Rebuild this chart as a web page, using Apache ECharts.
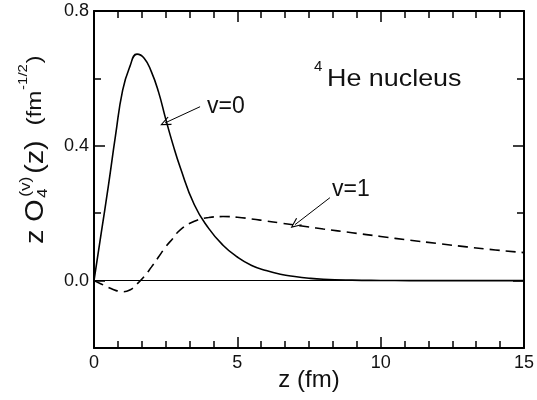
<!DOCTYPE html>
<html>
<head>
<meta charset="utf-8">
<script src="https://cdn.jsdelivr.net/npm/echarts@6/dist/echarts.min.js"></script>
<style>
  html, body { margin: 0; padding: 0; background: #fff; }
  #chart { width: 537px; height: 400px; }
</style>
</head>
<body>
<div id="chart"></div>
<script>
// z (fm) sample points
const zValues = [0, 0.25, 0.5, 0.75, 1, 1.25, 1.5, 1.75, 2, 2.25, 2.5, 2.75, 3, 3.5, 4, 4.5,
  5, 5.5, 6, 6.5, 7, 7.5, 8, 9, 10, 11, 12, 13, 14, 15]
// v=0 (solid)
const v0Values = [0, 0.14, 0.28, 0.43, 0.565, 0.635, 0.672, 0.66, 0.62, 0.56, 0.48, 0.405, 0.338, 0.225, 0.155, 0.105,
  0.07, 0.045, 0.03, 0.019, 0.012, 0.007, 0.004, 0.0015, 0.0005, 0, 0, 0, 0, 0]
// v=1 (dashed)
const v1Values = [0, -0.01, -0.02, -0.029, -0.033, -0.028, -0.01, 0.012, 0.04, 0.07, 0.1, 0.125, 0.15, 0.176, 0.187, 0.19,
  0.188, 0.183, 0.177, 0.171, 0.165, 0.159, 0.153, 0.142, 0.131, 0.12, 0.11, 0.1, 0.091, 0.083]

const yLabelTicks = [0, 0.4, 0.8]
const yMinorTicks = [-0.2, 0.2, 0.6]

// arrows: [tail, tip] in data units
const arrowV0 = [[3.70, 0.516], [2.48, 0.468]]
const arrowV1 = [[8.23, 0.246], [7.01, 0.166]]

const FONT = '"Liberation Sans", Arial, sans-serif'
const INK = '#111'
const arrowHead = 'path://M5,0 L10,10 L9,10.6 L5,2.6 L1,10.6 L0,10 Z'

const pairs = vals => zValues.map((z, i) => [z, vals[i]])

function arrowLine(a) {
  return [
    { coord: a[0], symbol: 'none' },
    { coord: a[1], symbol: arrowHead, symbolSize: [9, 11] }
  ]
}

// one x axis per side, six small divisions between labelled ticks
function xAxisDef(position, withLabels) {
  const ax = {
    type: 'value', min: 0, max: 15, interval: 5, position: position,
    axisLine: { show: true, onZero: false, lineStyle: { color: '#000', width: 2 } },
    axisTick: { show: true, inside: true, length: 11, lineStyle: { color: '#000', width: 1.5 } },
    minorTick: { show: true, splitNumber: 6, length: 7, lineStyle: { color: '#000', width: 1.5 } },
    axisLabel: { show: false },
    splitLine: { show: false },
    minorSplitLine: { show: false }
  }
  if (withLabels) {
    ax.axisLabel = { show: true, color: INK, fontSize: 18, fontFamily: FONT, margin: 6 }
    ax.name = 'z (fm)'
    ax.nameLocation = 'middle'
    ax.nameGap = 20
    ax.nameMoveOverlap = false
    ax.nameTextStyle = { color: INK, fontSize: 24, fontFamily: FONT }
  }
  return ax
}

function yAxisDef(position, ticks, len, withLine, withLabels) {
  return {
    type: 'value', min: -0.2, max: 0.8, position: position, offset: 0,
    axisLine: { show: withLine, onZero: false, lineStyle: { color: '#000', width: 2 } },
    axisTick: { show: true, inside: true, length: len, customValues: ticks, lineStyle: { color: '#000', width: 1.5 } },
    axisLabel: withLabels
      ? { show: true, customValues: yLabelTicks, formatter: v => v.toFixed(1), color: INK, fontSize: 18, fontFamily: FONT, margin: 5 }
      : { show: false },
    splitLine: { show: false }
  }
}

const chart = echarts.init(document.getElementById('chart'))
chart.setOption({
  animation: false,
  backgroundColor: '#fff',
  grid: { left: 94, right: 13, top: 11, bottom: 52, containLabel: false, outerBoundsMode: 'none' },
  xAxis: [
    xAxisDef('bottom', true),
    xAxisDef('top', false)
  ],
  yAxis: [
    yAxisDef('left', yLabelTicks, 11, true, true),
    yAxisDef('left', yMinorTicks, 7, false, false),
    yAxisDef('right', yLabelTicks, 11, true, false),
    yAxisDef('right', yMinorTicks, 7, false, false)
  ],
  series: [
    {
      name: 'v=0', type: 'line', smooth: true, showSymbol: false,
      lineStyle: { color: '#000', width: 1.6 },
      data: pairs(v0Values),
      markLine: {
        silent: true, animation: false,
        label: { show: false },
        lineStyle: { color: '#000', width: 1, type: 'solid' },
        data: [
          [{ coord: [0, 0], symbol: 'none' }, { coord: [15, 0], symbol: 'none' }],
          arrowLine(arrowV0)
        ]
      }
    },
    {
      name: 'v=1', type: 'line', smooth: true, showSymbol: false,
      lineStyle: { color: '#000', width: 1.6, type: [10, 6] },
      data: pairs(v1Values),
      markLine: {
        silent: true, animation: false,
        label: { show: false },
        lineStyle: { color: '#000', width: 1, type: 'solid' },
        data: [arrowLine(arrowV1)]
      }
    }
  ],
  graphic: [
    // y axis title, written bottom to top
    {
      type: 'group', x: 50, y: 244, rotation: Math.PI / 2, scaleX: 1.15,
      children: [
        { type: 'text', x: 0, y: -14, style: { text: 'z O', font: '25px ' + FONT, fill: INK, textVerticalAlign: 'middle' } },
        { type: 'text', x: 41, y: -24, style: { text: '(v)', font: '15px ' + FONT, fill: INK, textVerticalAlign: 'middle' } },
        { type: 'text', x: 40, y: -7, style: { text: '4', font: '15px ' + FONT, fill: INK, textVerticalAlign: 'middle' } },
        { type: 'text', x: 61, y: -14, style: { text: '(z)', font: '25px ' + FONT, fill: INK, textVerticalAlign: 'middle' } },
        { type: 'text', x: 103, y: -15, style: { text: '(fm', font: '21px ' + FONT, fill: INK, textVerticalAlign: 'middle' } },
        { type: 'text', x: 134, y: -27, style: { text: '-1/2', font: '13px ' + FONT, fill: INK, textVerticalAlign: 'middle' } },
        { type: 'text', x: 157, y: -15, style: { text: ')', font: '21px ' + FONT, fill: INK, textVerticalAlign: 'middle' } }
      ]
    },
    { type: 'text', x: 314, y: 67, style: { text: '4', font: '15px ' + FONT, fill: INK, textVerticalAlign: 'middle' } },
    { type: 'text', x: 327, y: 79, scaleX: 1.12, style: { text: 'He nucleus', font: '24px ' + FONT, fill: INK, textVerticalAlign: 'middle' } },
    { type: 'text', x: 207, y: 107, style: { text: 'v=0', font: '23px ' + FONT, fill: INK, textVerticalAlign: 'middle' } },
    { type: 'text', x: 332, y: 190, style: { text: 'v=1', font: '23px ' + FONT, fill: INK, textVerticalAlign: 'middle' } }
  ]
})
</script>
</body>
</html>
